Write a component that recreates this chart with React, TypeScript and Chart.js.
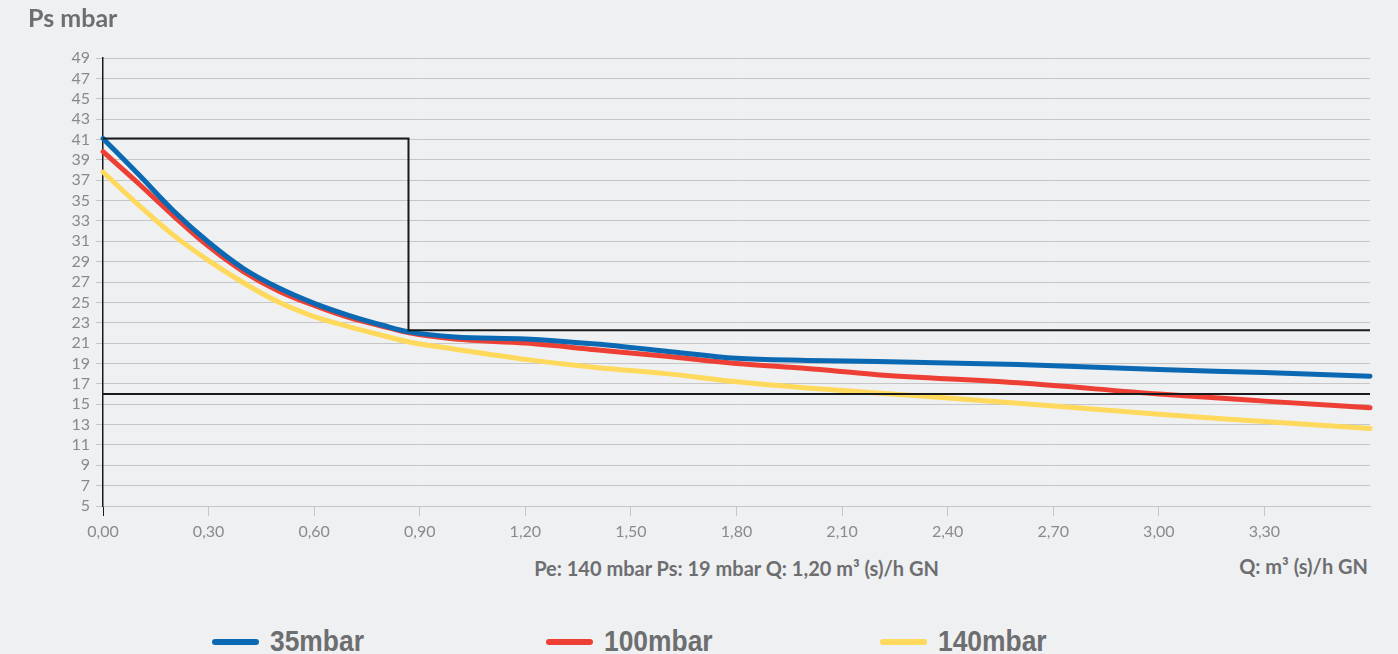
import React, { useEffect, useRef } from "react";
import { Chart, registerables } from "chart.js";

Chart.register(...registerables);

// Flow values Q (m³ (s)/h GN)
const qValues = [0, 0.1, 0.2, 0.3, 0.4, 0.5, 0.6, 0.7, 0.8, 0.87, 1.0, 1.2, 1.4, 1.6, 1.8, 2.0, 2.2, 2.6, 3.0, 3.3, 3.6];
// Outlet pressure Ps (mbar) per inlet pressure
const ps35 = [41.1, 37.6, 34.0, 30.9, 28.3, 26.4, 24.9, 23.7, 22.7, 22.1, 21.6, 21.4, 20.9, 20.2, 19.5, 19.3, 19.2, 18.9, 18.4, 18.1, 17.75];
const ps100 = [39.8, 36.7, 33.5, 30.5, 28.0, 26.1, 24.7, 23.5, 22.6, 22.0, 21.4, 21.0, 20.35, 19.7, 19.0, 18.5, 17.9, 17.1, 16.0, 15.3, 14.65];
const ps140 = [37.8, 34.6, 31.6, 29.1, 26.9, 25.0, 23.6, 22.6, 21.7, 21.1, 20.4, 19.4, 18.6, 18.0, 17.2, 16.6, 16.1, 15.1, 14.0, 13.3, 12.6];

// Limit envelope lines
const limitUpperX = [0, 0.868, 0.868, 3.6];
const limitUpperY = [41.1, 41.1, 22.25, 22.25];
const limitLowerX = [0, 3.6];
const limitLowerY = [16, 16];

const seriesLabels = ["35mbar", "100mbar", "140mbar"];
const seriesColors = ["#0b69b3", "#ee3f35", "#fed95c"];

const yMin = 5;
const yMax = 49;
const yStep = 2;
const xMin = 0;
const xMax = 3.6;
const xStep = 0.3;

const xTitle = "Pe: 140 mbar Ps: 19 mbar Q: 1,20 m³ (s)/h GN";
const xUnit = "Q: m³ (s)/h GN";
const yTitle = "Ps mbar";

const BG = "#eff0f2";
const TEXT = "#6d6e70";
const TICK = "#8a8a8c";
const GRID = "#c6c6c6";

export default function App() {
  const canvasRef = useRef<HTMLCanvasElement | null>(null);

  useEffect(() => {
    document.body.style.margin = "0";
    document.body.style.background = BG;
    const canvas = canvasRef.current;
    if (!canvas) return;
    const toPts = (xs: number[], ys: number[]) => xs.map((x, i) => ({ x, y: ys[i] }));
    const series = [ps35, ps100, ps140];
    const chart = new Chart(canvas, {
      type: "line",
      data: {
        datasets: [
          ...series.map((s, i) => ({
            label: seriesLabels[i],
            data: toPts(qValues, s),
            borderColor: seriesColors[i],
            backgroundColor: seriesColors[i],
            borderWidth: 5,
            borderCapStyle: "round" as const,
            borderJoinStyle: "round" as const,
            pointRadius: 0,
            cubicInterpolationMode: "monotone" as const,
            clip: false as any,
            order: 2,
          })),
          {
            label: "limit-upper",
            data: toPts(limitUpperX, limitUpperY),
            borderColor: "#1a1a1a",
            borderWidth: 2,
            pointRadius: 0,
            tension: 0,
            clip: false as any,
            order: 1,
          },
          {
            label: "limit-lower",
            data: toPts(limitLowerX, limitLowerY),
            borderColor: "#1a1a1a",
            borderWidth: 2,
            pointRadius: 0,
            tension: 0,
            clip: false as any,
            order: 1,
          },
        ],
      },
      options: {
        responsive: false,
        animation: false,
        layout: { padding: { top: 58, right: 28, left: 0, bottom: 0 } },
        plugins: { legend: { display: false }, tooltip: { enabled: false } },
        scales: {
          x: {
            type: "linear",
            min: xMin,
            max: xMax,
            ticks: {
              stepSize: xStep,
              autoSkip: false,
              color: TICK,
              padding: 6,
              font: { family: "Lato", size: 16 },
              maxRotation: 0,
              callback: (v: any) => (Number(v) >= xMax - 0.001 ? "" : Number(v).toFixed(2).replace(".", ",")),
            },
            grid: {
              drawOnChartArea: false,
              drawTicks: true,
              tickLength: 10,
              color: (ctx: any) => {
                const v = ctx.tick ? ctx.tick.value : null;
                if (v !== null && v >= xMax - 0.001) return "rgba(0,0,0,0)";
                if (v === 0) return "#1a1a1a";
                return GRID;
              },
            },
            border: { color: GRID, width: 1 },
            afterFit: (scale: any) => {
              scale.height = 39;
            },
          },
          y: {
            type: "linear",
            min: yMin,
            max: yMax,
            ticks: {
              stepSize: yStep,
              autoSkip: false,
              color: TICK,
              padding: 6,
              font: { family: "Lato", size: 16 },
            },
            grid: {
              color: GRID,
              lineWidth: 1,
              tickLength: 7,
            },
            border: { color: "#1a1a1a", width: 1.5 },
            afterFit: (scale: any) => {
              scale.width = 103;
            },
          },
        },
      },
    });
    return () => chart.destroy();
  }, []);

  const legendStarts = [212, 546, 880];

  return (
    <div style={{ position: "relative", width: 1398, height: 654, background: BG, overflow: "hidden" }}>
      <canvas ref={canvasRef} width={1398} height={545} style={{ position: "absolute", left: 0, top: 0 }} />
      <div
        style={{
          position: "absolute",
          left: 28,
          top: 5,
          fontFamily: "Lato",
          fontWeight: 700,
          fontSize: 25,
          lineHeight: 1,
          color: TEXT,
          whiteSpace: "nowrap",
        }}
      >
        {yTitle}
      </div>
      <div
        style={{
          position: "absolute",
          left: 103,
          width: 1267,
          top: 558,
          textAlign: "center",
          fontFamily: "Lato",
          fontWeight: 700,
          fontSize: 20,
          lineHeight: 1,
          color: TEXT,
          whiteSpace: "nowrap",
        }}
      >
        {xTitle}
      </div>
      <div
        style={{
          position: "absolute",
          right: 30,
          top: 556,
          fontFamily: "Lato",
          fontWeight: 700,
          fontSize: 20,
          lineHeight: 1,
          color: TEXT,
          whiteSpace: "nowrap",
        }}
      >
        {xUnit}
      </div>
      {seriesLabels.map((label, i) => (
        <div key={label} style={{ position: "absolute", left: legendStarts[i], top: 622, height: 32 }}>
          <div
            style={{
              position: "absolute",
              left: 0,
              top: 17,
              width: 47,
              height: 6,
              borderRadius: 3,
              background: seriesColors[i],
            }}
          />
          <div
            style={{
              position: "absolute",
              left: 58,
              top: 4,
              fontFamily: "'Liberation Sans', Arial, sans-serif",
              fontWeight: 700,
              fontSize: 30,
              lineHeight: 1,
              color: TEXT,
              whiteSpace: "nowrap",
              transform: "scaleX(0.88)",
              transformOrigin: "left center",
            }}
          >
            {label}
          </div>
        </div>
      ))}
    </div>
  );
}
